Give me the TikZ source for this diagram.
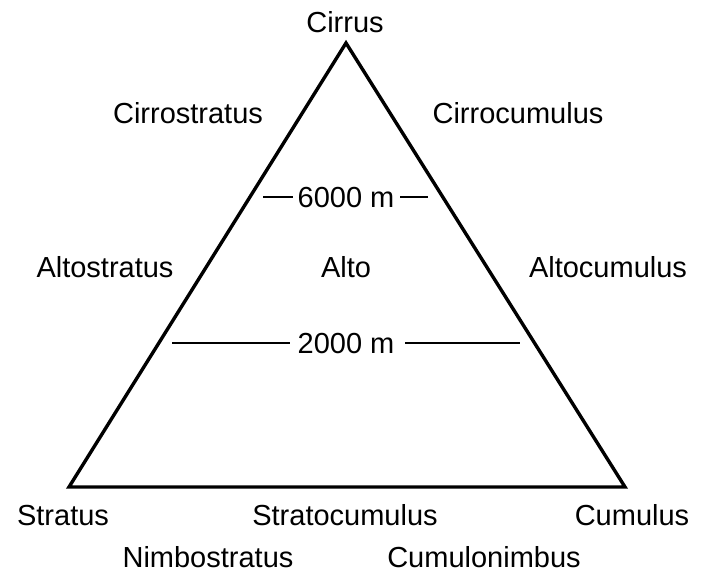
\documentclass[tikz,border=0pt]{standalone}
\usepackage{fontspec}
\setmainfont{Liberation Sans}
\begin{document}
\begin{tikzpicture}[x=1pt,y=-1pt,
  lbl/.style={anchor=base,inner sep=0pt,font=\fontsize{29}{32}\selectfont},
  tri/.style={line width=3.4pt,line join=miter},
  level/.style={line width=1.4pt}]
\useasboundingbox (0,0) rectangle (709,576);
\fill[white] (0,0) rectangle (709,576);
% triangle corners
\coordinate (top) at (346,43);
\coordinate (bl) at (69,487);
\coordinate (br) at (625,487);
\draw[tri] (top) -- (br) -- (bl) -- cycle;
% labels
\node[lbl] (cirrus) at (345,32) {Cirrus};
\node[lbl] (cirrostratus) at (188,123) {Cirrostratus};
\node[lbl] (cirrocumulus) at (518,123) {Cirrocumulus};
\node[lbl] (altostratus) at (105,277) {Altostratus};
\node[lbl] (alto) at (346,277) {Alto};
\node[lbl] (altocumulus) at (608,277) {Altocumulus};
\node[lbl] (stratus) at (63,525) {Stratus};
\node[lbl] (stratocumulus) at (345,525) {Stratocumulus};
\node[lbl] (cumulus) at (632,525) {Cumulus};
\node[lbl] (nimbostratus) at (208,567) {Nimbostratus};
\node[lbl] (cumulonimbus) at (484,567) {Cumulonimbus};
\node[lbl] (h6000) at (346,207) {6000 m};
\node[lbl] (h2000) at (346,353) {2000 m};
% level lines
\coordinate (a6l) at (263,197);
\coordinate (b6l) at (293,197);
\coordinate (a6r) at (400,197);
\coordinate (b6r) at (428,197);
\coordinate (a2l) at (172,343);
\coordinate (b2l) at (290,343);
\coordinate (a2r) at (405,343);
\coordinate (b2r) at (520,343);
\draw[level] (a6l) -- (b6l);
\draw[level] (a6r) -- (b6r);
\draw[level] (a2l) -- (b2l);
\draw[level] (a2r) -- (b2r);
\end{tikzpicture}
\end{document}
